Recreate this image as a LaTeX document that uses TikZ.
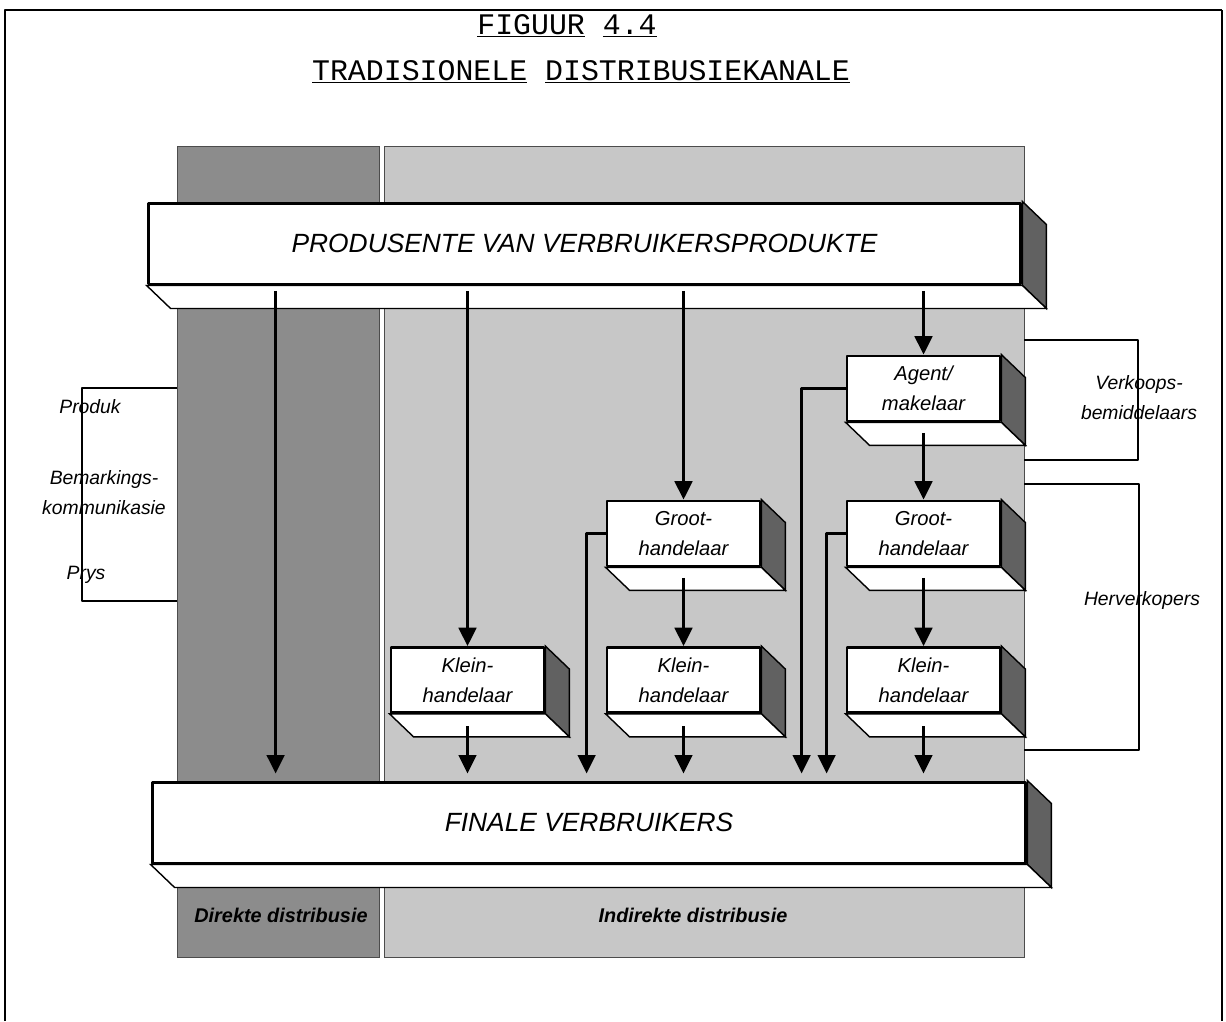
\documentclass[tikz,border=0pt]{standalone}
\usepackage{fontspec}
\setmainfont{Liberation Sans}
\newfontfamily\tikmono{Liberation Mono}
\usetikzlibrary{arrows.meta,positioning,calc,backgrounds}
\definecolor{direkGray}{gray}{0.55}
\definecolor{indirekGray}{gray}{0.78}
\definecolor{sideGray}{gray}{0.38}

% side and bottom faces of an extruded box
\newcommand\diepte[1]{%
  \begin{pgfonlayer}{background}
    \filldraw[fill=sideGray,draw=black,line width=0.8pt] (#1.north east) -- ++(24,23)
       -- ($(#1.south east)+(24,23)$) -- (#1.south east) -- cycle;
    \filldraw[fill=white,draw=black,line width=0.8pt] (#1.south west) -- ++(24,23)
       -- ($(#1.south east)+(24,23)$) -- (#1.south east) -- cycle;
  \end{pgfonlayer}}

\begin{document}
\begin{tikzpicture}[x=0.02cm,y=-0.02cm,line join=round,
    >={Triangle[width=10pt,length=10.5pt]},
    grootkas/.style={draw,line width=1.7pt,fill=white,inner sep=0pt,
      minimum width=17.46cm,minimum height=1.62cm,
      font=\itshape\fontsize{15}{18}\selectfont},
    kas/.style={draw,line width=1.6pt,fill=white,inner sep=0pt,align=center,
      minimum width=3.06cm,minimum height=1.3cm,
      font=\itshape\fontsize{11.5}{17}\selectfont},
    pyl/.style={->,line width=1.7pt},
    etiket/.style={align=center,font=\itshape\fontsize{11}{17}\selectfont},
    kolom/.style={align=center,font=\bfseries\itshape\fontsize{11.3}{13}\selectfont},
    titel/.style={font=\tikmono\fontsize{17}{20}\selectfont},
    haak/.style={line width=0.6pt}]
  \useasboundingbox (0,0) rectangle (1226,1021);
  % frame
  \draw[line width=1.6pt] (5,1021) -- (5,10) -- (1222,10);
  \draw[line width=0.6pt] (1222,10) -- (1222,1021);
  \node[titel] (fig) at (567,26) {\underline{FIGUUR} \underline{4.4}};
  \node[titel] (tit) at (581,72) {\underline{TRADISIONELE} \underline{DISTRIBUSIEKANALE}};
  % the two channel columns
  \begin{pgfonlayer}{background}
    \filldraw[fill=direkGray,draw=black!70,line width=0.4pt] (177,146) rectangle (379,957);
    \filldraw[fill=indirekGray,draw=black!70,line width=0.4pt] (384,146) rectangle (1024,957);
  \end{pgfonlayer}
  \node[kolom] (direk) at (281,915) {Direkte distribusie};
  \node[kolom] (indirek) at (693,915) {Indirekte distribusie};
  % brackets
  \draw[haak] (177,388) -- (82,388) -- (82,601) -- (177,601);
  \draw[haak] (1024,340) -- (1138,340) -- (1138,460) -- (1024,460);
  \draw[haak] (1024,484) -- (1139,484) -- (1139,750) -- (1024,750);
  \node[etiket] (produk) at (90,407) {Produk};
  \node[etiket] (bemark) at (104,493) {Bemarkings-\\kommunikasie};
  \node[etiket] (prys) at (86,575) {Prys};
  \node[etiket] (verk) at (1139,398) {Verkoops-\\bemiddelaars};
  \node[etiket] (herv) at (1142,600) {Herverkopers};
  % boxes
  \node[grootkas] (prod) at (584.5,243.5) {PRODUSENTE VAN VERBRUIKERSPRODUKTE};
  \node[grootkas,minimum width=17.48cm] (fin) at (589,822.5) {FINALE VERBRUIKERS};
  \node[kas] (agent) at (923.5,388.5) {Agent/\\makelaar};
  \node[kas] (groot1) at (683.5,533.5) {Groot-\\handelaar};
  \node[kas] (groot2) at (923.5,533.5) {Groot-\\handelaar};
  \node[kas] (klein1) at (467.5,680) {Klein-\\handelaar};
  \node[kas] (klein2) at (683.5,680) {Klein-\\handelaar};
  \node[kas] (klein3) at (923.5,680) {Klein-\\handelaar};
  \foreach \n in {prod,fin,agent,groot1,groot2,klein1,klein2,klein3}
    \diepte{\n}
  % flows
  \coordinate (direk-in) at ($(prod.south west)+(129,0)$);
  \draw[pyl,shorten <=3pt,shorten >=4pt] (direk-in) -- (direk-in |- fin.north);
  \foreach \n in {klein1,groot1,agent}
    \draw[pyl,shorten <=3pt] (\n.north |- prod.south) -- (\n.north);
  \draw[pyl,shorten <=6pt] (agent.south) -- (groot2.north);
  \draw[pyl,shorten <=6pt] (groot1.south) -- (klein2.north);
  \draw[pyl,shorten <=6pt] (groot2.south) -- (klein3.north);
  \foreach \n in {klein1,klein2,klein3}
    \draw[pyl,shorten <=7pt,shorten >=4pt] (\n.south) -- (\n.south |- fin.north);
  \draw[pyl,shorten >=4pt] (groot1.west) -| ($(groot1.west |- fin.north)+(-19,0)$);
  \draw[pyl,shorten >=4pt] (agent.west) -| ($(agent.west |- fin.north)+(-44,0)$);
  \draw[pyl,shorten >=4pt] (groot2.west) -| ($(groot2.west |- fin.north)+(-19,0)$);
\end{tikzpicture}
\end{document}
